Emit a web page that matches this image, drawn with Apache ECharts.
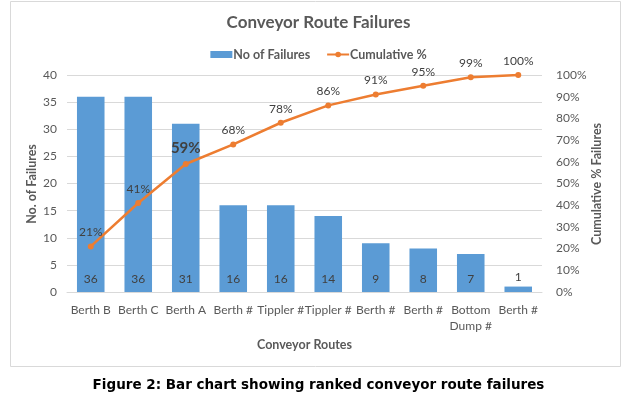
<!DOCTYPE html>
<html>
<head>
<meta charset="utf-8">
<script src="https://cdn.jsdelivr.net/npm/echarts@6/dist/echarts.min.js"></script>
<style>
html, body { margin: 0; padding: 0; background: #fff; }
#chart { width: 637px; height: 396px; }
</style>
</head>
<body>
<div id="chart"></div>
<script>
var routes = ['Berth B', 'Berth C', 'Berth A', 'Berth #', 'Tippler #', 'Tippler #', 'Berth #', 'Berth #', 'Bottom\nDump #', 'Berth #'];
var failures = [36, 36, 31, 16, 16, 14, 9, 8, 7, 1];
var cumulative = [21, 41, 59, 68, 78, 86, 91, 95, 99, 100];
var leftTicks = { min: 0, max: 40, step: 5 };
var rightTicks = { min: 0, max: 100, step: 10 };

var grey = '#595959';
var font = 'Lato';

function drawChart() {
	var dom = document.getElementById('chart');
	var myChart = echarts.init(dom);

	var barData = failures.map(function (v, i) {
		// tiny last bar gets its label on top
		if (v < 3) {
			return { value: v, label: { position: 'top', distance: 3 } };
		}
		return v;
	});
	var lineData = cumulative.map(function (v, i) {
		if (i === 2) {
			return { value: v, label: { fontSize: 15, fontWeight: 'bold', color: '#404040' } };
		}
		return v;
	});

	var nameFont = 'bold 12.5px ' + font;

	var option = {
		animation: false,
		textStyle: { fontFamily: font },
		title: {
			text: 'Conveyor Route Failures',
			left: 'center',
			top: 9,
			textStyle: { fontFamily: font, fontSize: 17, fontWeight: 'bold', color: grey }
		},
		legend: {
			top: 43,
			left: 'center',
			itemGap: 16,
			itemWidth: 22,
			itemHeight: 7,
			textStyle: { fontFamily: font, fontSize: 12.5, fontWeight: 'bold', color: grey, padding: [0, 0, 0, -4] },
			data: [
				{ name: 'No of Failures', icon: 'rect' },
				{ name: 'Cumulative %' }
			]
		},
		grid: { left: 67, right: 95, top: 75, bottom: 104, containLabel: false },
		xAxis: {
			type: 'category',
			data: routes,
			name: 'Conveyor Routes',
			nameLocation: 'middle',
			nameGap: 45,
			nameTextStyle: { fontFamily: font, fontSize: 12.5, fontWeight: 'bold', color: grey },
			axisLine: { lineStyle: { color: '#D9D9D9' } },
			axisTick: { show: false },
			axisLabel: { interval: 0, fontSize: 12, color: grey, margin: 10, lineHeight: 16 }
		},
		yAxis: [{
			type: 'value',
			min: leftTicks.min,
			max: leftTicks.max,
			interval: leftTicks.step,
			axisLine: { show: false },
			axisTick: { show: false },
			axisLabel: { fontSize: 12, color: grey, margin: 10 },
			splitLine: { lineStyle: { color: '#D9D9D9' } }
		}, {
			type: 'value',
			min: rightTicks.min,
			max: rightTicks.max,
			interval: rightTicks.step,
			axisLine: { show: false },
			axisTick: { show: false },
			axisLabel: { fontSize: 12, color: grey, margin: 14, formatter: '{value}%' },
			splitLine: { show: false }
		}],
		series: [{
			name: 'No of Failures',
			type: 'bar',
			barWidth: '58%',
			itemStyle: { color: '#5B9BD5' },
			label: {
				show: true,
				position: 'insideBottom',
				distance: 7,
				fontSize: 12,
				color: '#404040'
			},
			data: barData
		}, {
			name: 'Cumulative %',
			type: 'line',
			yAxisIndex: 1,
			symbol: 'circle',
			symbolSize: 6,
			lineStyle: { color: '#ED7D31', width: 2.5 },
			itemStyle: { color: '#ED7D31' },
			label: {
				show: true,
				position: 'top',
				distance: 5,
				fontSize: 12,
				color: '#404040',
				formatter: '{c}%'
			},
			data: lineData
		}],
		graphic: [{
			type: 'rect',
			shape: { x: 10.5, y: 1.5, width: 610, height: 365 },
			style: { fill: 'none', stroke: '#D9D9D9', lineWidth: 1 },
			silent: true,
			z: -1
		}, {
			// left axis title
			type: 'text',
			x: 32,
			y: 184,
			rotation: Math.PI / 2,
			style: { text: 'No. of Failures', font: nameFont, fill: grey, align: 'center', verticalAlign: 'middle' }
		}, {
			// right axis title
			type: 'text',
			x: 597,
			y: 184,
			rotation: Math.PI / 2,
			style: { text: 'Cumulative % Failures', font: nameFont, fill: grey, align: 'center', verticalAlign: 'middle' }
		}, {
			type: 'text',
			left: 'center',
			top: 378,
			style: {
				text: 'Figure 2: Bar chart showing ranked conveyor route failures',
				font: 'bold 13.5px "DejaVu Sans"',
				fill: '#000'
			}
		}]
	};

	if (option && typeof option === 'object') {
		myChart.setOption(option, true);
	}
}

drawChart();
</script>
</body>
</html>
